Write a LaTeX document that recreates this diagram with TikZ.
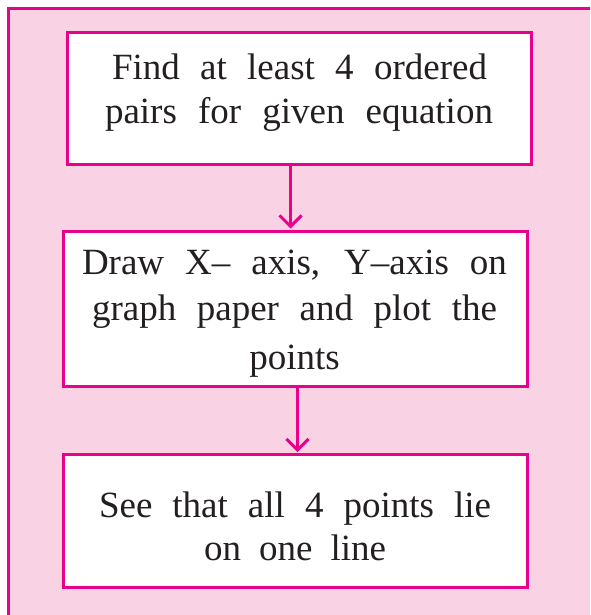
\documentclass[tikz,border=0pt]{standalone}
\usepackage{fontspec}
\setmainfont{Liberation Serif}
\usetikzlibrary{arrows.meta}
\definecolor{mag}{RGB}{233,0,139}
\definecolor{pinkbg}{RGB}{249,211,228}
\definecolor{txt}{RGB}{35,31,32}
\begin{document}
\begin{tikzpicture}[x=1pt,y=-1pt,
  box/.style={draw=mag, line width=3pt, fill=white, inner sep=0pt},
  ln/.style={anchor=base, inner sep=0pt, text=txt, font=\fontsize{37}{44}\selectfont},
  arr/.style={draw=mag, line width=3pt, shorten >=1pt, -{Straight Barb[length=11pt,width=22pt]}}]
\useasboundingbox (0,0) rectangle (590,615);
\clip (0,0) rectangle (590,615);
\draw[draw=mag, line width=3pt, fill=pinkbg] (8.5,8.5) rectangle (620,640);
% boxes
\node[box, minimum width=464pt, minimum height=131.5pt] (b1) at (299.5,98.75) {};
\node[box, minimum width=463.5pt, minimum height=155pt] (b2) at (295.25,308.5) {};
\node[box, minimum width=464pt, minimum height=132.5pt] (b3) at (295.5,520.75) {};
% connectors
\draw[arr] ([xshift=-9pt]b1.south) -- ([xshift=-9pt]b1.south |- b2.north);
\draw[arr] ([xshift=2.25pt]b2.south) -- ([xshift=2.25pt]b2.south |- b3.north);
% texts
\node[ln] (t1a) at (299.5,80) {\makebox[375pt][s]{Find at least 4 ordered}};
\node[ln] (t1b) at (299,123) {\makebox[388pt][s]{pairs for given equation}};
\node[ln] (t2a) at (294.5,274) {\makebox[425pt][s]{Draw X-- axis, Y--axis on}};
\node[ln] (t2b) at (294.5,320) {\makebox[405pt][s]{graph paper and plot the}};
\node[ln] (t2c) at (294.5,369) {points};
\node[ln] (t3a) at (295,517) {\makebox[392pt][s]{See that all 4 points lie}};
\node[ln] (t3b) at (295,560) {\makebox[182pt][s]{on one line}};
\end{tikzpicture}
\end{document}
